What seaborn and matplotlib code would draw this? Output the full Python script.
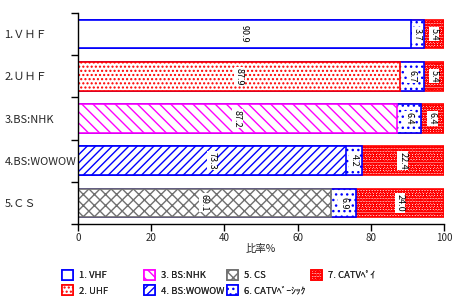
import matplotlib
matplotlib.use("Agg")
import matplotlib.pyplot as plt
import seaborn as sns
import pandas as pd
import numpy as np
from matplotlib.patches import Patch

categories = ["1.ＶＨＦ", "2.ＵＨＦ", "3.BS:NHK", "4.BS:WOWOW", "5.ＣＳ"]
own = [90.9, 87.9, 87.2, 73.3, 69.1]
basic = [3.7, 6.7, 6.4, 4.2, 6.9]
pay = [5.4, 5.4, 6.4, 22.4, 24.0]
legend_labels = ["1. VHF", "2. UHF", "3. BS:NHK", "4. BS:WOWOW", "5. CS",
                 "6. CATVﾍﾞｰｼｯｸ", "7. CATVﾍﾟｲ"]
xticks = [0, 20, 40, 60, 80, 100]

sns.set_style("white")
plt.rcParams['font.family'] = ['Noto Sans CJK JP', 'DejaVu Sans']
plt.rcParams['hatch.linewidth'] = 1.0

own_styles = [
    dict(edge="#0000ff", hatch=None),
    dict(edge="#ff0000", hatch="...."),
    dict(edge="#ff00ff", hatch="\\\\\\"),
    dict(edge="#0000ff", hatch="////"),
    dict(edge="#707070", hatch="xxx"),
]
basic_style = dict(edge="#0000ff", hatch="...")
pay_style = dict(edge="#ff0000", hatch="oooooo")

df = pd.DataFrame({"cat": categories, "own": own, "basic": basic, "pay": pay})
df["l2"] = df["own"] + df["basic"]
df["l3"] = df["l2"] + df["pay"]

fig = plt.figure(figsize=(4.54, 3.02), dpi=100)
ax = fig.add_axes([78/454, 1-224/302, (444-78)/454, (224-13)/302])

layers = [("l3", pay_style), ("l2", basic_style), ("own", None)]
for col, style in layers:
    n0 = len(ax.patches)
    sns.barplot(data=df, x=col, y="cat", orient="h", color="white",
                width=0.68, ax=ax, linewidth=1.2, saturation=1)
    for i, p in enumerate(ax.patches[n0:]):
        st = style if style is not None else own_styles[i]
        p.set_facecolor("white")
        p.set_edgecolor(st["edge"])
        if st["hatch"]:
            p.set_hatch(st["hatch"])

# segment labels
for i in range(len(categories)):
    segs = [(0, own[i]), (own[i], basic[i]), (own[i] + basic[i], pay[i])]
    for left, w in segs:
        ax.text(left + w / 2, i, f"{w:.1f}", rotation=270, ha="center", va="center",
                fontsize=6.5, color="black",
                bbox=dict(facecolor="white", edgecolor="none", pad=0.6))

ax.set_xlim(0, 100)
ax.set_ylim(4.5, -0.5)
ax.set_xticks(xticks)
ax.set_xticklabels([str(t) for t in xticks], fontsize=7)
ax.set_xlabel("比率%", fontsize=7.5, labelpad=1)
ax.set_ylabel("")
ax.set_yticks(range(len(categories)))
ax.set_yticklabels(categories, fontsize=8, ha="left")
ax.tick_params(axis="y", which="major", length=0, pad=53)
ax.set_yticks(np.arange(-0.5, 5.0, 1.0), minor=True)
ax.tick_params(axis="y", which="minor", length=5, width=1, color="black", direction="out", left=True)
ax.tick_params(axis="x", length=5, width=1, color="black", direction="out", bottom=True, pad=1.5)
for s in ["top", "right"]:
    ax.spines[s].set_visible(False)
for s in ["left", "bottom"]:
    ax.spines[s].set_color("black")
    ax.spines[s].set_linewidth(1)

all_styles = own_styles + [basic_style, pay_style]
handles = [Patch(facecolor="white", edgecolor=s["edge"], hatch=s["hatch"], linewidth=1.2)
           for s in all_styles]
columns = [[0, 1], [2, 3], [4, 5], [6]]
col_x = [62, 144, 227, 311]
for cols, x in zip(columns, col_x):
    leg = fig.legend([handles[k] for k in cols], [legend_labels[k] for k in cols],
                     loc="upper left", bbox_to_anchor=(x/454, 1-270/302),
                     frameon=False, fontsize=6.8, handlelength=1.2, handleheight=1.25,
                     handletextpad=0.6, labelspacing=0.55, borderaxespad=0, borderpad=0)
    fig.add_artist(leg)

fig.savefig("out.png", dpi=100)
